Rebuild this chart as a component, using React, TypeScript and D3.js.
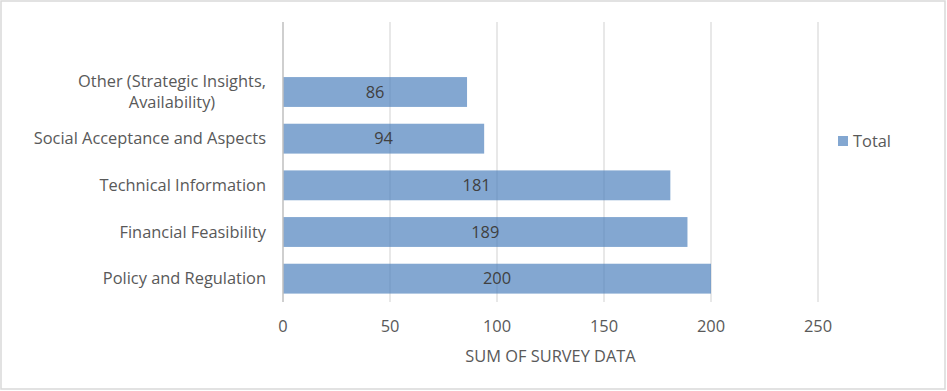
import { useEffect, useRef } from 'react'
import * as d3 from 'd3'

// categories top to bottom (first slot is the empty pivot row)
const categories = [
  '',
  'Other (Strategic Insights,|Availability)',
  'Social Acceptance and Aspects',
  'Technical Information',
  'Financial Feasibility',
  'Policy and Regulation',
]
const totals = [null, 86, 94, 181, 189, 200]
const xTicks = [0, 50, 100, 150, 200, 250]
const seriesName = 'Total'
const axisTitle = 'SUM OF SURVEY DATA'

const W = 947
const H = 391
const FONT = '"Open Sans", Lato, sans-serif'
const FS = 16.4

const App = () => {
  const svgRef = useRef<SVGSVGElement>(null)

  useEffect(() => {
    const svg = d3.select(svgRef.current)
    svg.selectAll('*').remove()

    const margin = { top: 22, right: 129, bottom: 89, left: 283 }
    const width = W - margin.left - margin.right
    const height = H - margin.top - margin.bottom

    // outer chart border
    svg
      .append('rect')
      .attr('x', 1)
      .attr('y', 1)
      .attr('width', W - 3)
      .attr('height', H - 3)
      .attr('fill', '#fff')
      .attr('stroke', '#d9d9d9')
      .attr('stroke-width', 1.5)

    const x = d3.scaleLinear().domain([0, 250]).range([0, width])
    const y = d3
      .scaleBand()
      .domain(categories.map((c, i) => String(i)))
      .range([0, height])
      .paddingInner(0.36)
      .paddingOuter(0.18)

    const g = svg.append('g').attr('transform', `translate(${margin.left}, ${margin.top})`)

    // vertical grid lines
    g.selectAll('.grid')
      .data(xTicks.slice(1))
      .enter()
      .append('line')
      .attr('x1', (d) => x(d))
      .attr('x2', (d) => x(d))
      .attr('y1', 0)
      .attr('y2', height)
      .attr('stroke', '#d9d9d9')
      .attr('stroke-width', 1.2)

    // bars
    const rows = categories.map((c, i) => ({ key: String(i), label: c, value: totals[i] }))
    const withData = rows.filter((r) => r.value !== null)

    g.selectAll('.bar')
      .data(withData)
      .enter()
      .append('rect')
      .attr('x', 0)
      .attr('y', (d) => y(d.key)!)
      .attr('width', (d) => x(d.value as number))
      .attr('height', y.bandwidth())
      .attr('fill', '#4f81bd')
      .attr('fill-opacity', 0.7)

    // data labels
    g.selectAll('.lbl')
      .data(withData)
      .enter()
      .append('text')
      .attr('x', (d) => x(d.value as number) / 2)
      .attr('y', (d) => y(d.key)! + y.bandwidth() / 2)
      .attr('dy', '0.35em')
      .attr('text-anchor', 'middle')
      .attr('font-family', FONT)
      .attr('font-size', FS)
      .attr('fill', '#404040')
      .text((d) => String(d.value))

    // y axis line
    g.append('line')
      .attr('x1', 0)
      .attr('x2', 0)
      .attr('y1', 0)
      .attr('y2', height)
      .attr('stroke', '#bfbfbf')
      .attr('stroke-width', 1.5)

    // category labels
    rows.forEach((r) => {
      if (!r.label) return
      const lines = r.label.split('|')
      const cy = y(r.key)! + y.bandwidth() / 2
      if (lines.length === 1) {
        g.append('text')
          .attr('font-family', FONT)
          .attr('font-size', FS)
          .attr('fill', '#595959')
          .attr('x', -17)
          .attr('y', cy)
          .attr('dy', '0.35em')
          .attr('text-anchor', 'end')
          .text(lines[0])
      } else {
        const center = -111
        lines.forEach((ln, i) => {
          g.append('text')
            .attr('font-family', FONT)
            .attr('font-size', FS)
            .attr('fill', '#595959')
            .attr('x', center)
            .attr('y', cy + (i - (lines.length - 1) / 2) * 21)
            .attr('dy', '0.35em')
            .attr('text-anchor', 'middle')
            .text(ln)
        })
      }
    })

    // x tick labels
    g.selectAll('.tick')
      .data(xTicks)
      .enter()
      .append('text')
      .attr('x', (d) => x(d))
      .attr('y', height + 24)
      .attr('dy', '0.35em')
      .attr('text-anchor', 'middle')
      .attr('font-family', FONT)
      .attr('font-size', FS)
      .attr('fill', '#595959')
      .text((d) => String(d))

    // axis title
    g.append('text')
      .attr('x', width / 2)
      .attr('y', height + 54)
      .attr('dy', '0.35em')
      .attr('text-anchor', 'middle')
      .attr('font-family', FONT)
      .attr('font-size', FS)
      .attr('fill', '#595959')
      .text(axisTitle)

    // legend
    const lg = svg.append('g').attr('transform', 'translate(838, 141)')
    lg.append('rect')
      .attr('x', 0)
      .attr('y', -5)
      .attr('width', 10)
      .attr('height', 10)
      .attr('fill', '#4f81bd')
      .attr('fill-opacity', 0.7)
    lg.append('text')
      .attr('x', 15)
      .attr('y', 0)
      .attr('dy', '0.35em')
      .attr('font-family', FONT)
      .attr('font-size', FS)
      .attr('fill', '#595959')
      .text(seriesName)
  }, [])

  return (
    <svg ref={svgRef} width={W} height={H} style={{ position: 'absolute', left: 0, top: 0 }} />
  )
}

export default App
